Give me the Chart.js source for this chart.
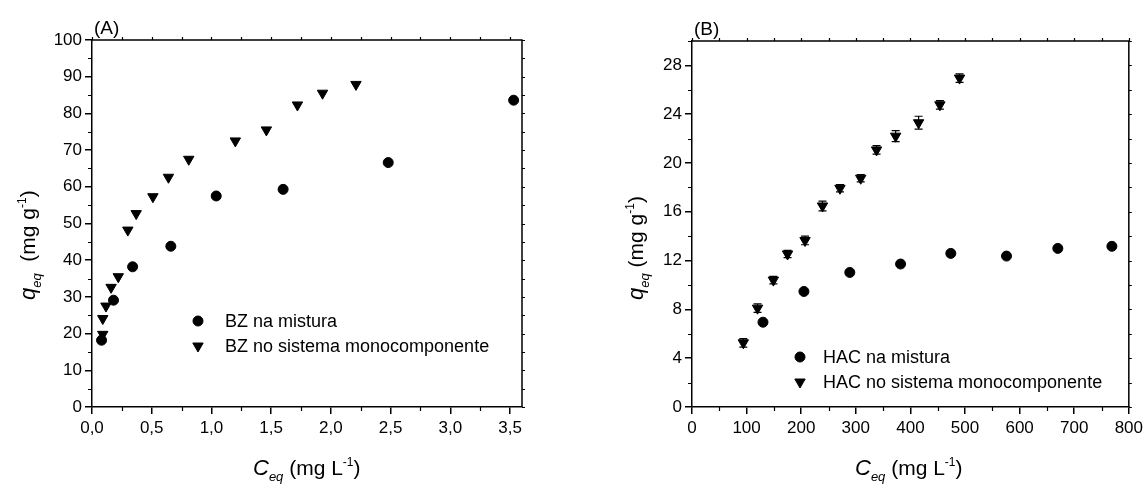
<!DOCTYPE html>
<html>
<head>
<meta charset="utf-8">
<script src="https://cdn.jsdelivr.net/npm/chart.js"></script>
<style>
  html, body { margin: 0; padding: 0; background: #fff; }
  #wrap { position: relative; width: 1147px; height: 485px; overflow: hidden; }
  canvas { position: absolute; top: 0; }
</style>
</head>
<body>
<div id="wrap">
  <canvas id="cA" width="573" height="485" style="left:0px"></canvas>
  <canvas id="cB" width="574" height="485" style="left:573px"></canvas>
</div>
<script>
// ---------- DATA ----------
// Panel A : BZ
const bzMixX  = [0.08, 0.18, 0.34, 0.66, 1.04, 1.60, 2.48, 3.53];
const bzMixY  = [18.2, 29.1, 38.2, 43.8, 57.5, 59.3, 66.6, 83.6];
const bzMonoX = [0.09, 0.09, 0.117, 0.16, 0.22, 0.30, 0.37, 0.51, 0.64, 0.81, 1.20, 1.46, 1.72, 1.93, 2.21];
const bzMonoY = [19.8, 24.1, 27.5, 32.6, 35.5, 48.2, 52.7, 57.3, 62.6, 67.5, 72.5, 75.5, 82.3, 85.5, 87.9];
// Panel B : HAC
const hacMixX  = [130, 205, 289, 382, 474, 576, 670, 769];
const hacMixY  = [6.95, 9.47, 11.03, 11.72, 12.59, 12.37, 13.0, 13.17];
const hacMonoX = [94, 120, 149, 175, 207, 239, 271, 309, 338, 373, 415, 454, 490];
const hacMonoY = [5.26, 8.1, 10.4, 12.54, 13.65, 16.48, 17.93, 18.75, 21.07, 22.2, 23.3, 24.77, 26.96];
const hacMonoErr = [0.35, 0.35, 0.3, 0.3, 0.35, 0.4, 0.3, 0.3, 0.35, 0.45, 0.53, 0.35, 0.35];

const labelsA = ['BZ na mistura', 'BZ no sistema monocomponente'];
const labelsB = ['HAC na mistura', 'HAC no sistema monocomponente'];

// ---------- HELPERS ----------
const FONT = "'Liberation Sans', Arial, Helvetica, sans-serif";
function pts(xs, ys) { return xs.map((x, i) => ({ x: x, y: ys[i] })); }
function comma(v, d) { return v.toFixed(d).replace('.', ','); }

function rich(ctx, segs, x, y, rot) {
  ctx.save();
  ctx.translate(x, y);
  ctx.rotate(rot || 0);
  ctx.fillStyle = '#000';
  ctx.textBaseline = 'alphabetic';
  ctx.textAlign = 'left';
  let cx = 0;
  for (const s of segs) {
    ctx.font = s.f;
    ctx.fillText(s.t, cx, s.dy || 0);
    cx += ctx.measureText(s.t).width;
  }
  ctx.restore();
}

function drawMarker(ctx, style, x, y) {
  ctx.save();
  ctx.fillStyle = '#000';
  ctx.strokeStyle = '#000';
  ctx.lineWidth = 1;
  ctx.beginPath();
  if (style === 'circle') {
    ctx.arc(x, y, 5, 0, Math.PI * 2);
  } else {
    const r = 6;
    let rad = Math.PI;
    ctx.moveTo(x + Math.sin(rad) * r, y - Math.cos(rad) * r);
    rad += 2 * Math.PI / 3;
    ctx.lineTo(x + Math.sin(rad) * r, y - Math.cos(rad) * r);
    rad += 2 * Math.PI / 3;
    ctx.lineTo(x + Math.sin(rad) * r, y - Math.cos(rad) * r);
    ctx.closePath();
  }
  ctx.fill();
  ctx.stroke();
  ctx.restore();
}

// frame, minor ticks, mirror ticks
const framePlugin = {
  id: 'frame',
  afterDraw(chart, args, o) {
    const ctx = chart.ctx, a = chart.chartArea;
    const xs = chart.scales.x, ys = chart.scales.y;
    ctx.save();
    ctx.strokeStyle = '#000';
    ctx.lineWidth = 1.5;
    ctx.beginPath();
    ctx.moveTo(a.left, a.top); ctx.lineTo(a.right, a.top); ctx.lineTo(a.right, a.bottom);
    ctx.stroke();
    ctx.lineWidth = 1.2;
    ctx.beginPath();
    const eps = 1e-9;
    // x minor + top ticks
    for (let k = 0; ; k++) {
      const v = xs.min + k * o.xMinor;
      if (v > xs.max + eps) break;
      const px = Math.round(xs.getPixelForValue(v)) + 0.5;
      const isMajor = Math.abs(v / o.xMajor - Math.round(v / o.xMajor)) < 1e-6;
      if (!isMajor) { ctx.moveTo(px, a.bottom); ctx.lineTo(px, a.bottom + 4); }
      ctx.moveTo(px, a.top); ctx.lineTo(px, a.top - 3);
    }
    for (let k = 0; ; k++) {
      const v = ys.min + k * o.yMinor;
      if (v > ys.max + eps) break;
      const py = Math.round(ys.getPixelForValue(v)) + 0.5;
      const isMajor = Math.abs(v / o.yMajor - Math.round(v / o.yMajor)) < 1e-6;
      if (!isMajor) { ctx.moveTo(a.left, py); ctx.lineTo(a.left - 4, py); }
      ctx.moveTo(a.right, py); ctx.lineTo(a.right + 3, py);
    }
    ctx.stroke();
    ctx.restore();
  }
};

// error bars
const errPlugin = {
  id: 'errbars',
  beforeDatasetsDraw(chart) {
    const ctx = chart.ctx, xs = chart.scales.x, ys = chart.scales.y;
    chart.data.datasets.forEach((ds) => {
      if (!ds.errors) return;
      ctx.save();
      ctx.strokeStyle = '#000';
      ctx.lineWidth = 1.2;
      ctx.beginPath();
      ds.data.forEach((p, i) => {
        const e = ds.errors[i];
        const px = xs.getPixelForValue(p.x);
        const y1 = ys.getPixelForValue(p.y + e), y2 = ys.getPixelForValue(p.y - e);
        ctx.moveTo(px, y1); ctx.lineTo(px, y2);
        ctx.moveTo(px - 4, y1); ctx.lineTo(px + 4, y1);
        ctx.moveTo(px - 4, y2); ctx.lineTo(px + 4, y2);
      });
      ctx.stroke();
      ctx.restore();
    });
  }
};

// in-plot legend, titles, panel label
const decoPlugin = {
  id: 'deco',
  afterDraw(chart, args, o) {
    const ctx = chart.ctx;
    // legend
    chart.data.datasets.forEach((ds, i) => {
      const y = o.legY + i * o.legDy;
      drawMarker(ctx, ds.pointStyle, o.legX, y);
      ctx.save();
      ctx.fillStyle = '#000';
      ctx.font = '18px ' + FONT;
      ctx.textBaseline = 'middle';
      ctx.textAlign = 'left';
      ctx.fillText(ds.label, o.legTextX, y + 1);
      ctx.restore();
    });
    // panel label
    rich(ctx, [{ t: o.panel, f: '19px ' + FONT }], o.panelX, o.panelY, 0);
    // x title
    rich(ctx, [
      { t: 'C', f: 'italic 22px ' + FONT },
      { t: 'eq', f: 'italic 13px ' + FONT, dy: 6 },
      { t: ' (mg L', f: '21px ' + FONT },
      { t: '-1', f: '12px ' + FONT, dy: -9 },
      { t: ')', f: '21px ' + FONT }
    ], o.xtX, o.xtY, 0);
    // y title
    rich(ctx, [
      { t: 'q', f: 'italic 22px ' + FONT },
      { t: 'eq', f: 'italic 13px ' + FONT, dy: 6 },
      { t: o.ySpace + '(mg g', f: '21px ' + FONT },
      { t: '-1', f: '12px ' + FONT, dy: -9 },
      { t: ')', f: '21px ' + FONT }
    ], o.ytX, o.ytY, -Math.PI / 2);
  }
};

function makeChart(id, cfg) {
  const tickFont = { family: FONT, size: 17 };
  return new Chart(document.getElementById(id), {
    type: 'scatter',
    data: {
      datasets: [
        { label: cfg.labels[0], data: cfg.d1, pointStyle: 'circle', pointRadius: 5,
          backgroundColor: '#000', borderColor: '#000', borderWidth: 1 },
        { label: cfg.labels[1], data: cfg.d2, pointStyle: 'triangle', pointRotation: 180, pointRadius: 6,
          backgroundColor: '#000', borderColor: '#000', borderWidth: 1, errors: cfg.err }
      ]
    },
    options: {
      responsive: false,
      animation: false,
      devicePixelRatio: 1,
      layout: { padding: cfg.padding },
      plugins: {
        legend: { display: false },
        tooltip: { enabled: false },
        frame: cfg.frame,
        deco: cfg.deco
      },
      scales: {
        x: {
          type: 'linear', min: cfg.xMin, max: cfg.xMax,
          afterFit: (s) => { s.height = 78; },
          ticks: { stepSize: cfg.xStep, includeBounds: false, color: '#000', font: tickFont, padding: 4,
                   maxRotation: 0, autoSkip: false, callback: cfg.xFmt },
          grid: { drawOnChartArea: false, drawTicks: true, tickLength: 7, color: '#000', lineWidth: 1.5 },
          border: { display: true, color: '#000', width: 1.5 }
        },
        y: {
          type: 'linear', min: cfg.yMin, max: cfg.yMax,
          afterFit: (s) => { s.width = cfg.yWidth; },
          ticks: { stepSize: cfg.yStep, includeBounds: false, color: '#000', font: tickFont, padding: 3,
                   autoSkip: false, callback: (v) => String(Math.round(v)) },
          grid: { drawOnChartArea: false, drawTicks: true, tickLength: 7, color: '#000', lineWidth: 1.5 },
          border: { display: true, color: '#000', width: 1.5 }
        }
      }
    },
    plugins: [framePlugin, errPlugin, decoPlugin]
  });
}

makeChart('cA', {
  labels: labelsA,
  d1: pts(bzMixX, bzMixY),
  d2: pts(bzMonoX, bzMonoY),
  err: null,
  padding: { left: 0, top: 40, right: 51, bottom: 0 },
  yWidth: 92,
  xMin: 0, xMax: 3.6, xStep: 0.5, xFmt: (v) => comma(v, 1),
  yMin: 0, yMax: 100, yStep: 10,
  frame: { xMinor: 0.25, xMajor: 0.5, yMinor: 5, yMajor: 10 },
  deco: { legX: 198, legY: 321, legDy: 25, legTextX: 225,
          panel: '(A)', panelX: 94, panelY: 34,
          xtX: 253, xtY: 475, ytX: 35, ytY: 300, ySpace: '  ' }
});

makeChart('cB', {
  labels: labelsB,
  d1: pts(hacMixX, hacMixY),
  d2: pts(hacMonoX, hacMonoY),
  err: hacMonoErr,
  padding: { left: 0, top: 41, right: 18, bottom: 0 },
  yWidth: 119,
  xMin: 0, xMax: 800, xStep: 100, xFmt: (v) => String(Math.round(v)),
  yMin: 0, yMax: 30, yStep: 4,
  frame: { xMinor: 50, xMajor: 100, yMinor: 2, yMajor: 4 },
  deco: { legX: 227, legY: 357, legDy: 25, legTextX: 250,
          panel: '(B)', panelX: 121, panelY: 35,
          xtX: 282, xtY: 475, ytX: 70, ytY: 300, ySpace: ' ' }
});
</script>
</body>
</html>
